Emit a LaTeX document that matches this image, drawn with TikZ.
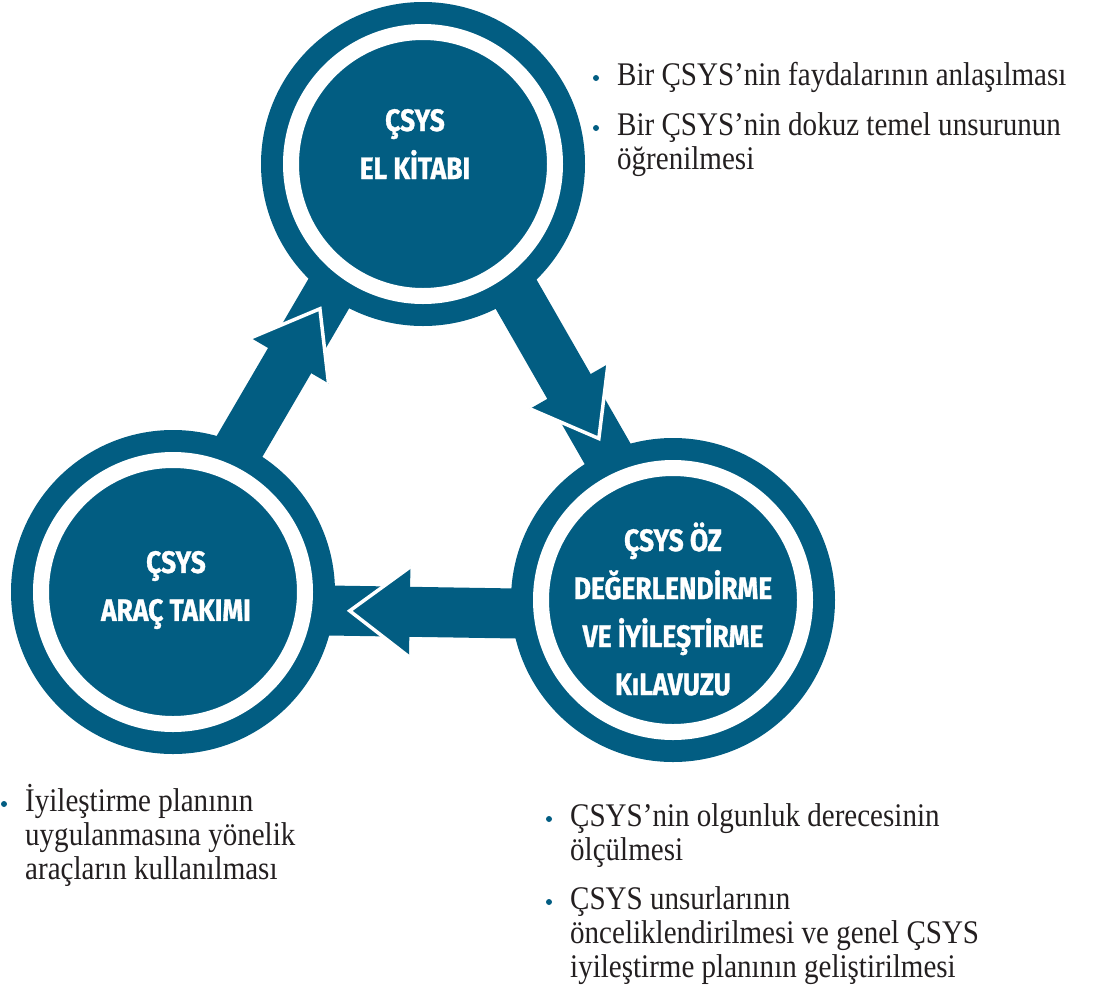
\documentclass[tikz,border=0pt]{standalone}
\usepackage{fontspec}
\usepackage{tikz}
\usetikzlibrary{calc,positioning}

\newfontfamily\headfont[FakeStretch=0.85,BoldFeatures={FakeBold=1}]{Fira Sans}
\newfontfamily\bodyfont[FakeStretch=0.88]{Liberation Serif}
\definecolor{hubblue}{RGB}{2,93,130}
\definecolor{ink}{RGB}{35,31,32}

% thick arrow from circle #1 to circle #2, shifted to the outer side
\newcommand\cyclearrow[2]{%
  \coordinate (s) at ($(#1)!16pt!90:(#2)$);
  \coordinate (e) at ($(#2)!16pt!-90:(#1)$);
  \coordinate (t0) at ($(s)!150pt!(e)$);
  \coordinate (t1) at ($(e)!150pt!(s)$);
  \coordinate (hb) at ($(e)!237pt!(s)$);
  \coordinate (tip) at ($(e)!177pt!(s)$);
  \fill[hubblue] ($(t0)!25pt!90:(e)$) -- ($(t1)!25pt!-90:(s)$)
    -- ($(t1)!25pt!90:(s)$) -- ($(t0)!25pt!-90:(e)$) -- cycle;
  \fill[hubblue] ($(hb)!45pt!90:(e)$) -- (tip) -- ($(hb)!45pt!-90:(e)$) -- cycle;
  \draw[white,line width=3.5pt,line join=miter]
    ($(hb)!45pt!90:(e)$) -- (tip) -- ($(hb)!45pt!-90:(e)$);
}

\begin{document}
\begin{tikzpicture}[x=1pt,y=-1pt,
  hub/.style={circle,fill=hubblue,minimum size=324pt,inner sep=0pt,
    path picture={\draw[white,line width=16pt]
      (path picture bounding box.center) circle[radius=132pt];}},
  title/.style={text=white,align=center,inner sep=0pt,
    font=\headfont\bfseries\fontsize{31pt}{48pt}\selectfont},
  item/.style={anchor=base west,align=left,inner sep=0pt,text=ink,
    font=\bodyfont\fontsize{33pt}{34pt}\selectfont},
  dot/.style={circle,fill=hubblue,inner sep=0pt,minimum size=6pt}]
  \useasboundingbox (0,0) rectangle (1112,994);

  \node[hub] (TK) at (423,164) {};
  \node[hub] (AT) at (173,592) {};
  \node[hub] (OD) at (673,600) {};

  \cyclearrow{AT}{TK}
  \cyclearrow{TK}{OD}
  \cyclearrow{OD}{AT}

  \node[title] (TKt) at ($(TK)+(-8,-20)$) {ÇSYS\\EL KİTABI};
  \node[title] (ATt) at ($(AT)+(3,-2)$) {ÇSYS\\ARAÇ TAKIMI};
  \node[title] (ODt) at ($(OD)+(0,9)$) {ÇSYS ÖZ\\DEĞERLENDİRME\\VE İYİLEŞTİRME\\KıLAVUZU};

  % bullet texts, placed at the baseline of their last line
  \node[item] (i1) at (617,85) {Bir ÇSYS’nin faydalarının anlaşılması};
  \node[item] (i2) at (617,169) {Bir ÇSYS’nin dokuz temel unsurunun\\öğrenilmesi};
  \node[item] (i3) at (25,879) {İyileştirme planının\\uygulanmasına yönelik\\araçların kullanılması};
  \node[item] (i4) at (570,860) {ÇSYS’nin olgunluk derecesinin\\ölçülmesi};
  \node[item] (i5) at (570,977) {ÇSYS unsurlarının\\önceliklendirilmesi ve genel ÇSYS\\iyileştirme planının geliştirilmesi};
  \foreach \i/\n in {i1/0,i2/1,i3/2,i4/1,i5/2}
    \node[dot] at ($(\i.base west)+(-21,-7-34*\n)$) {};
\end{tikzpicture}
\end{document}
